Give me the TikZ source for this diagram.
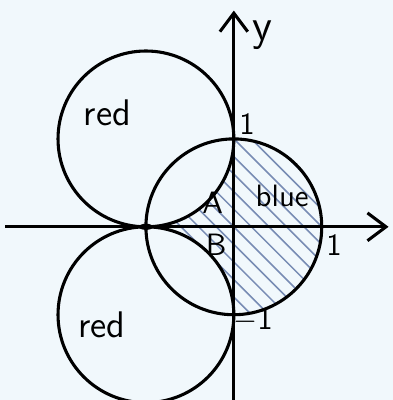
\documentclass[tikz,border=0pt]{standalone}
\usetikzlibrary{arrows.meta}
\definecolor{paper}{RGB}{241,248,252}
\definecolor{hatch}{RGB}{120,140,180}
\tikzset{
  curve/.style={line width=1pt, black},
  axis/.style={line width=1pt, black, -{Straight Barb[length=6pt,width=9pt,line width=1pt]}},
  lbl/.style={font=\sffamily, inner sep=1pt},
}
\begin{document}
\begin{tikzpicture}[x=88pt/3.09*1,y=88pt/3.09*1]
% bounding box / background (1 unit = 88 px)
\fill[paper] (-2.66,-1.97) rectangle (1.81,2.58);
\useasboundingbox (-2.66,-1.97) rectangle (1.81,2.58);
% hatched region
\begin{scope}
  \clip (0,1) arc[start angle=90, end angle=-90, radius=1]
              arc[start angle=0, end angle=90, radius=1]
              arc[start angle=-90, end angle=0, radius=1] -- cycle;
  \foreach \k in {-3.0,-2.8,...,3.0}
    \draw[hatch, line width=0.5pt] (\k-2,2) -- (\k+2,-2);
\end{scope}
% circles
\draw[curve] (0,0) circle (1);
\draw[curve] (-1,1) circle (1);
\draw[curve] (-1,-1) circle (1);
% axes
\coordinate (xs) at (-2.6,0);
\coordinate (xe) at (1.76,0);
\coordinate (ys) at (0,-1.97);
\coordinate (ye) at (0,2.46);
\draw[axis] (xs) -- (xe);
\draw[axis] (ys) -- (ye);
\fill (-1,0) ellipse (0.08 and 0.035);
% labels
\node[lbl] (ly) at (0.32,2.18) {\Large y};
\node[lbl] (l1y) at (0.15,1.17) {1};
\node[lbl] (l1x) at (1.14,-0.21) {1};
\node[lbl] (lm1) at (0.22,-1.06) {$-$1};
\node[lbl] (lA) at (-0.24,0.27) {A};
\node[lbl] (lB) at (-0.2,-0.2) {B};
\node[lbl] (lblue) at (0.55,0.35) {blue};
\node[lbl] (lred1) at (-1.44,1.3) {\large red};
\node[lbl] (lred2) at (-1.5,-1.11) {\large red};
\end{tikzpicture}
\end{document}
